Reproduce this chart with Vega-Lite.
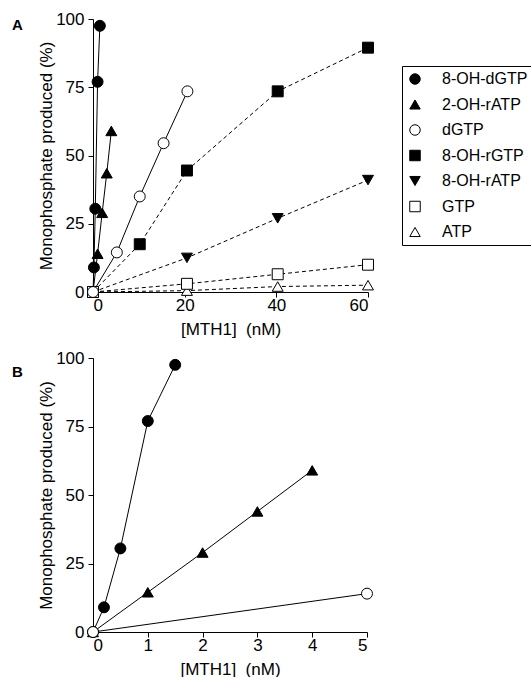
{
  "$schema": "https://vega.github.io/schema/vega-lite/v6.json",
  "background": "white",
  "padding": {"left": 12, "top": 10, "right": 5, "bottom": 5},
  "spacing": 12,
  "config": {
    "font": "Liberation Sans",
    "view": {"stroke": null},
    "axis": {
      "grid": false,
      "domainColor": "black",
      "tickColor": "black",
      "labelColor": "black",
      "titleColor": "black",
      "labelFontSize": 17,
      "titleFontSize": 17,
      "titleFontWeight": "normal",
      "tickSize": 5,
      "domainWidth": 1,
      "tickWidth": 1
    }
  },
  "datasets": {
    "a": [
      {"series": "8-OH-dGTP", "x": 0, "y": 0},
      {"series": "8-OH-dGTP", "x": 0.2, "y": 9},
      {"series": "8-OH-dGTP", "x": 0.5, "y": 30.5},
      {"series": "8-OH-dGTP", "x": 1, "y": 77},
      {"series": "8-OH-dGTP", "x": 1.5, "y": 97.5},
      {"series": "2-OH-rATP", "x": 0, "y": 0},
      {"series": "2-OH-rATP", "x": 1, "y": 14},
      {"series": "2-OH-rATP", "x": 2, "y": 29},
      {"series": "2-OH-rATP", "x": 3, "y": 43.5},
      {"series": "2-OH-rATP", "x": 4, "y": 59},
      {"series": "8-OH-rGTP", "x": 0, "y": 0},
      {"series": "8-OH-rGTP", "x": 10.2, "y": 17.5},
      {"series": "8-OH-rGTP", "x": 20.5, "y": 44.5},
      {"series": "8-OH-rGTP", "x": 40.3, "y": 73.5},
      {"series": "8-OH-rGTP", "x": 60, "y": 89.5},
      {"series": "8-OH-rATP", "x": 0, "y": 0},
      {"series": "8-OH-rATP", "x": 20.5, "y": 12.5},
      {"series": "8-OH-rATP", "x": 40.3, "y": 27},
      {"series": "8-OH-rATP", "x": 60, "y": 41},
      {"series": "ATP", "x": 0, "y": 0},
      {"series": "ATP", "x": 20.5, "y": 0.5},
      {"series": "ATP", "x": 40.3, "y": 2},
      {"series": "ATP", "x": 60, "y": 2.5},
      {"series": "GTP", "x": 0, "y": 0},
      {"series": "GTP", "x": 20.5, "y": 3},
      {"series": "GTP", "x": 40.3, "y": 6.5},
      {"series": "GTP", "x": 60, "y": 10},
      {"series": "dGTP", "x": 0, "y": 0},
      {"series": "dGTP", "x": 5.2, "y": 14.5},
      {"series": "dGTP", "x": 10.2, "y": 35},
      {"series": "dGTP", "x": 15.4, "y": 54.5},
      {"series": "dGTP", "x": 20.6, "y": 73.5}
    ],
    "b": [
      {"series": "8-OH-dGTP", "x": 0, "y": 0},
      {"series": "8-OH-dGTP", "x": 0.2, "y": 9},
      {"series": "8-OH-dGTP", "x": 0.5, "y": 30.5},
      {"series": "8-OH-dGTP", "x": 1, "y": 77},
      {"series": "8-OH-dGTP", "x": 1.5, "y": 97.5},
      {"series": "2-OH-rATP", "x": 0, "y": 0},
      {"series": "2-OH-rATP", "x": 1, "y": 14.5},
      {"series": "2-OH-rATP", "x": 2, "y": 29},
      {"series": "2-OH-rATP", "x": 3, "y": 44},
      {"series": "2-OH-rATP", "x": 4, "y": 59},
      {"series": "dGTP", "x": 0, "y": 0},
      {"series": "dGTP", "x": 5, "y": 14}
    ]
  },
  "vconcat": [
    {
      "width": 275,
      "height": 273,
      "title": {"text": "A", "anchor": "start", "frame": "group", "dx": -81, "dy": 23, "offset": 0, "fontSize": 15, "fontWeight": "bold", "color": "black"},
      "data": {"name": "a"},
      "encoding": {
        "x": {"field": "x", "type": "quantitative", "scale": {"domain": [0, 60], "nice": false},
              "axis": {"values": [0, 20, 40, 60], "title": "[MTH1]\u00a0\u00a0(nM)", "labelPadding": 0, "titlePadding": 8}},
        "y": {"field": "y", "type": "quantitative", "scale": {"domain": [0, 100], "nice": false},
              "axis": {"values": [0, 25, 50, 75, 100], "title": "Monophosphate produced (%)", "labelPadding": 4, "titlePadding": 0}}
      },
      "layer": [
        {
          "transform": [{"filter": {"field": "series", "oneOf": ["8-OH-dGTP", "2-OH-rATP", "dGTP"]}}],
          "mark": {"type": "line", "color": "black", "strokeWidth": 1},
          "encoding": {"detail": {"field": "series"}}
        },
        {
          "transform": [{"filter": {"field": "series", "oneOf": ["8-OH-rGTP", "8-OH-rATP", "GTP", "ATP"]}}],
          "mark": {"type": "line", "color": "black", "strokeWidth": 1, "strokeDash": [4, 3]},
          "encoding": {"detail": {"field": "series"}}
        },
        {
          "mark": {"type": "point", "filled": true, "strokeWidth": 1, "size": 120, "opacity": 1},
          "encoding": {
            "stroke": {"value": "black"},
            "shape": {"field": "series", "title": null,
              "scale": {"domain": ["8-OH-dGTP", "2-OH-rATP", "dGTP", "8-OH-rGTP", "8-OH-rATP", "GTP", "ATP"],
                        "range": ["circle", "triangle-up", "circle", "square", "triangle-down", "square", "triangle-up"]},
              "legend": {"orient": "none", "legendX": 309, "legendY": 47, "strokeColor": "black", "padding": 5,
                         "labelFontSize": 16, "labelColor": "black", "symbolSize": 110, "rowPadding": 9.5, "labelOffset": 19,
                         "symbolOpacity": 1,
                         "encoding": {"symbols": {"stroke": {"value": "black"}, "strokeWidth": {"value": 1}}}}},
            "fill": {"field": "series", "title": null,
              "scale": {"domain": ["8-OH-dGTP", "2-OH-rATP", "dGTP", "8-OH-rGTP", "8-OH-rATP", "GTP", "ATP"],
                        "range": ["black", "black", "white", "black", "black", "white", "white"]},
              "legend": {"orient": "none", "legendX": 309, "legendY": 47, "strokeColor": "black", "padding": 5,
                         "labelFontSize": 16, "labelColor": "black", "symbolSize": 110, "rowPadding": 9.5, "labelOffset": 19,
                         "symbolOpacity": 1,
                         "encoding": {"symbols": {"stroke": {"value": "black"}, "strokeWidth": {"value": 1}}}}}
          }
        }
      ]
    },
    {
      "width": 274,
      "height": 274,
      "title": {"text": "B", "anchor": "start", "frame": "group", "dx": -81, "dy": 31, "offset": 0, "fontSize": 15, "fontWeight": "bold", "color": "black"},
      "data": {"name": "b"},
      "encoding": {
        "x": {"field": "x", "type": "quantitative", "scale": {"domain": [0, 5], "nice": false},
              "axis": {"values": [0, 1, 2, 3, 4, 5], "title": "[MTH1]\u00a0\u00a0(nM)", "labelPadding": 0, "titlePadding": 8}},
        "y": {"field": "y", "type": "quantitative", "scale": {"domain": [0, 100], "nice": false},
              "axis": {"values": [0, 25, 50, 75, 100], "title": "Monophosphate produced (%)", "labelPadding": 4, "titlePadding": 0}}
      },
      "layer": [
        {
          "mark": {"type": "line", "color": "black", "strokeWidth": 1},
          "encoding": {"detail": {"field": "series"}}
        },
        {
          "mark": {"type": "point", "filled": true, "strokeWidth": 1, "size": 120, "opacity": 1},
          "encoding": {
            "stroke": {"value": "black"},
            "shape": {"field": "series", "legend": null,
              "scale": {"domain": ["8-OH-dGTP", "2-OH-rATP", "dGTP"], "range": ["circle", "triangle-up", "circle"]}},
            "fill": {"field": "series", "legend": null,
              "scale": {"domain": ["8-OH-dGTP", "2-OH-rATP", "dGTP"], "range": ["black", "black", "white"]}}
          }
        }
      ]
    }
  ],
  "resolve": {"scale": {"shape": "independent", "fill": "independent"}}
}
